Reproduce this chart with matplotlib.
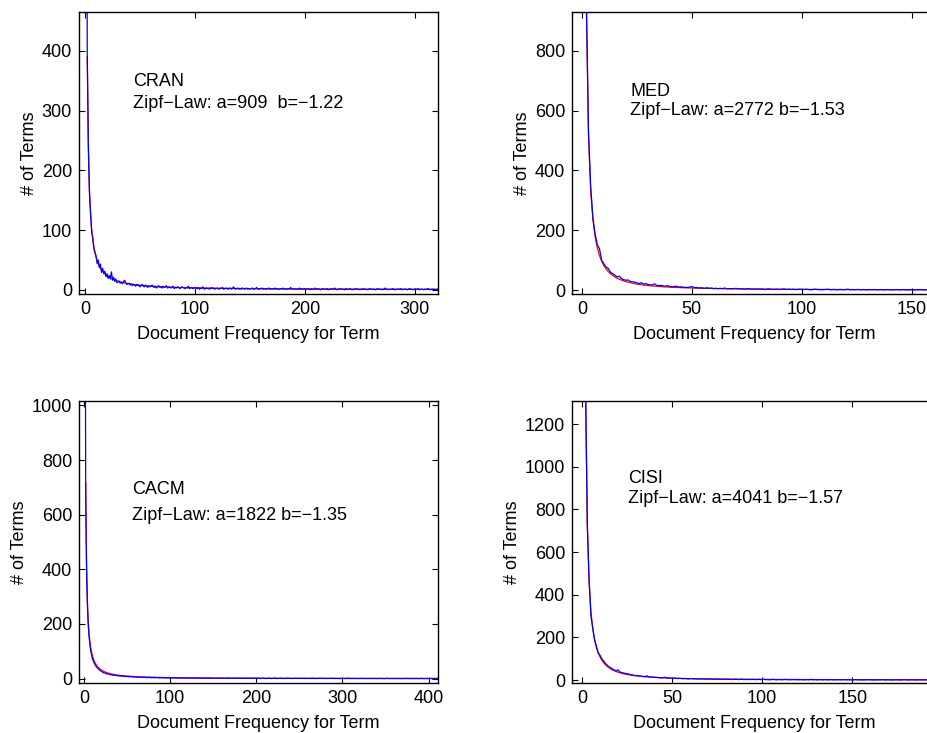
import numpy as np
import matplotlib
matplotlib.use("Agg")
import matplotlib.pyplot as plt

plt.rcParams['font.family'] = ['Liberation Sans', 'DejaVu Sans']
plt.rcParams['font.size'] = 13

# ---- observed number of terms per document frequency (df = 1, 2, 3, ...) ----
cran_head = [1250, 395, 243, 162, 131, 97, 88, 69, 63, 57, 44, 50, 37, 43, 29, 36, 27, 31, 22, 27,
             19, 24, 18, 30, 16, 21, 14, 18, 12, 13, 15, 11, 13, 10, 14, 16, 12, 9, 10, 11]
cran_mid = [8, 10, 7, 9, 8, 6, 9, 7, 8, 5, 7, 9, 6, 5, 8, 6, 4, 7, 5, 6,
            8, 5, 4, 6, 3, 5, 7, 4, 5, 3, 6, 4, 5, 7, 3, 4, 5, 3, 4, 6,
            2, 4, 3, 5, 4, 2, 3, 5, 4, 3, 2, 4, 3, 6, 2, 3, 4, 2, 3, 4]
cran_tail = [3, 2, 4, 1, 3, 2, 5, 2, 1, 3, 2, 3, 1, 2, 4, 2, 3, 1, 2, 3,
             2, 1, 3, 2, 4, 1, 2, 2, 3, 1, 2, 3, 1, 2, 5, 2, 1, 2, 3, 1,
             2, 1, 3, 2, 1, 2, 3, 1, 2, 1, 2, 3, 1, 1, 2, 4, 1, 2, 1, 2,
             3, 1, 2, 1, 1, 2, 3, 1, 2, 1, 2, 1, 3, 1, 2, 1, 1, 2, 1, 3,
             1, 2, 1, 1, 2, 1, 4, 1, 2, 1, 1, 2, 1, 1, 3, 1, 2, 1, 1, 2,
             1, 1, 2, 1, 0, 2, 1, 1, 3, 1, 1, 2, 1, 0, 1, 2, 1, 1, 1, 2,
             0, 1, 1, 2, 1, 1, 3, 1, 0, 1, 1, 2, 1, 1, 1, 0, 2, 1, 1, 1,
             2, 1, 0, 1, 1, 1, 2, 1, 1, 0, 1, 1, 2, 1, 1, 1, 0, 1, 2, 1,
             1, 1, 1, 0, 1, 2, 1, 1, 1, 0, 1, 1, 3, 1, 1, 0, 1, 1, 1, 2,
             1, 0, 1, 1, 1, 1, 2, 0, 1, 1, 1, 1, 0, 1, 2, 1, 1, 0, 1, 1,
             1, 1, 2, 0, 1, 1, 1, 0, 1, 1, 1, 2, 1, 0, 1, 1, 1, 1, 0, 1,
             1, 2, 1, 1, 0]

med_head = [3900, 985, 530, 345, 242, 188, 152, 138, 100, 88, 77, 72, 60, 55, 50, 44, 47, 38, 35, 33,
            34, 29, 28, 27, 24, 22, 25, 20, 22, 19, 18, 17, 21, 16, 15, 16, 14, 13, 15, 12,
            11, 12, 13, 10, 11, 10, 9, 9, 10, 12]
med_mid = [8, 9, 7, 8, 7, 6, 8, 6, 7, 5, 6, 5, 6, 5, 7, 4, 5, 4, 5, 6,
           4, 5, 4, 3, 4, 5, 3, 4, 3, 4, 3, 4, 2, 3, 4, 3, 2, 3, 3, 2,
           3, 4, 2, 3, 2, 3, 2, 2, 3, 2]
med_tail = [2, 3, 2, 1, 2, 3, 2, 2, 1, 2, 2, 3, 1, 2, 2, 1, 2, 2, 1, 2,
            3, 1, 2, 1, 2, 2, 1, 2, 1, 1, 2, 1, 2, 1, 1, 2, 1, 1, 2, 1,
            1, 1, 2, 1, 1, 2, 1, 1, 1, 2, 1, 1, 1, 2, 1, 1, 1, 2, 1, 1]

cacm_head = [2100, 660, 392, 262, 192, 150, 120, 99, 83, 71, 62, 56, 50, 45, 41, 38, 34, 31, 29, 27,
             25, 23, 21, 20, 21, 18, 17, 16, 17, 15, 14, 15, 12, 13, 12, 13, 11, 12, 10, 11]
cacm_mid = [10, 9, 11, 8, 10, 9, 8, 9, 7, 8, 9, 7, 6, 8, 7, 6, 7, 5, 7, 6,
            5, 6, 7, 5, 4, 6, 5, 4, 5, 6, 4, 5, 3, 5, 4, 4, 5, 3, 4, 4,
            3, 5, 3, 4, 3, 4, 3, 2, 4, 3, 3, 4, 2, 3, 3, 2, 4, 3, 2, 3,
            3, 2, 3, 2, 4, 2, 3, 1, 2, 3, 2, 2, 3, 1, 2, 4, 2, 2, 3, 1,
            2, 3, 2, 1, 2, 2, 3, 1, 2, 2, 1, 3, 2, 1, 2, 2, 1, 3, 1, 2,
            2, 1, 2, 1, 3, 1, 2, 1, 2, 2, 1, 1, 2, 1, 3, 1, 2, 1, 1, 2,
            1, 2, 1, 1, 2, 1, 3, 1, 1, 2, 1, 1, 2, 1, 1, 2, 1, 2, 1, 1,
            2, 1, 1, 2, 1, 1, 1, 2, 1, 1, 2, 1, 1, 1, 2, 1, 1, 2, 1, 1]
cacm_tail = [1, 1, 2, 1, 0, 1, 1, 2, 1, 1, 0, 1, 1, 1, 2, 1, 0, 1, 1, 1,
             1, 2, 1, 0, 1, 1, 1, 1, 2, 0, 1, 1, 1, 0, 1, 2, 1, 1, 0, 1,
             1, 1, 0, 1, 1, 2, 1, 0, 1, 1, 1, 0, 1, 1, 1, 2, 0, 1, 1, 0,
             1, 1, 1, 0, 2, 1, 0, 1, 1, 0, 1, 1, 1, 0, 1, 1, 2, 0, 1, 0,
             1, 1, 0, 1, 1, 0, 1, 2, 0, 1, 1, 0, 1, 1, 0, 1, 0, 1, 1, 0,
             1, 1, 0, 1, 0, 1, 2, 0, 1, 0, 1, 1, 0, 1, 0, 1, 1, 0, 0, 1,
             1, 0, 1, 0, 1, 1, 0, 1, 0, 0, 1, 1, 0, 1, 0, 1, 0, 1, 1, 0,
             0, 1, 0, 1, 1, 0, 1, 0, 0, 1, 0, 1, 1, 0, 0, 1, 0, 1, 0, 0,
             1, 1, 0, 0, 1, 0, 1, 0, 0, 1, 0, 1, 0, 0, 1, 1, 0, 0, 1, 0,
             1, 0, 0, 1, 0, 1, 0, 0, 1, 0, 0, 1, 1, 0, 0, 1, 0, 0, 1, 0,
             0, 1, 0, 1, 0, 0, 1, 0, 0, 1, 0, 1]

cisi_head = [6000, 1400, 735, 468, 300, 243, 190, 158, 128, 117, 100, 90, 78, 70, 62, 57, 52, 47, 42, 48,
             38, 35, 33, 31, 30, 28, 25, 24, 22, 21, 21, 19, 18, 17, 16, 20, 15, 14, 13, 14,
             12, 12, 11, 10, 11, 13, 9, 10, 9, 8]
cisi_mid = [9, 8, 7, 8, 7, 6, 7, 6, 5, 6, 7, 5, 6, 5, 4, 5, 6, 4, 5, 4,
            6, 4, 3, 4, 5, 3, 4, 3, 4, 3, 4, 3, 3, 2, 4, 3, 2, 3, 4, 2,
            3, 2, 3, 2, 3, 2, 2, 3, 2, 2]
cisi_tail = [3, 2, 2, 1, 2, 3, 2, 1, 2, 2, 1, 2, 3, 1, 2, 1, 2, 2, 1, 2,
             1, 2, 1, 1, 2, 1, 3, 1, 2, 1, 1, 2, 1, 1, 2, 1, 1, 2, 1, 1,
             1, 2, 1, 1, 1, 2, 1, 1, 1, 0, 1, 2, 1, 1, 1, 0, 1, 1, 2, 1,
             1, 0, 1, 1, 1, 1, 2, 0, 1, 1, 1, 0, 1, 1, 1, 1, 0, 1, 2, 1,
             0, 1, 1, 1, 0, 1, 1, 1, 0, 1, 1, 1, 0, 1, 1, 1, 2, 1, 1, 0]

# ---- collection names and fitted Zipf-law parameters (y = a * x^b) ----
names = ["CRAN", "MED", "CACM", "CISI"]
zipf_a = [909, 2772, 1822, 4041]
zipf_b = [-1.22, -1.53, -1.35, -1.57]
fit_labels = ["Zipf\u2212Law: a=909  b=\u22121.22",
              "Zipf\u2212Law: a=2772 b=\u22121.53",
              "Zipf\u2212Law: a=1822 b=\u22121.35",
              "Zipf\u2212Law: a=4041 b=\u22121.57"]
observed = [cran_head + cran_mid + cran_tail,
            med_head + med_mid + med_tail,
            cacm_head + cacm_mid + cacm_tail,
            cisi_head + cisi_mid + cisi_tail]

x_limits = [(-5.5, 321), (-4.5, 161), (-5.8, 411), (-5.5, 196.5)]
y_limits = [(-7, 465), (-13, 930), (-16, 1016), (-14, 1308)]
x_ticks = [[0, 100, 200, 300], [0, 50, 100, 150], [0, 100, 200, 300, 400], [0, 50, 100, 150]]
y_ticks = [[0, 100, 200, 300, 400], [0, 200, 400, 600, 800],
           [0, 200, 400, 600, 800, 1000], [0, 200, 400, 600, 800, 1000, 1200]]

W, H = 928, 733
fig = plt.figure(figsize=(W / 100, H / 100), dpi=100)

# panel rectangles in pixels: left, top, right, bottom
rects = [(79, 12, 438, 294), (572, 12, 936, 294),
         (79, 401, 438, 683), (572, 401, 936, 683)]
# text anchors (pixels, left x and baseline y) for name and fit label
name_pos = [(133, 86), (630, 96), (132, 494), (628, 483)]
fit_pos = [(133, 108), (630, 115), (132, 520), (628, 503)]

for i in range(4):
    l, t, r, b = rects[i]
    ax = fig.add_axes([l / W, 1 - b / H, (r - l) / W, (b - t) / H])
    y = np.array(observed[i], dtype=float)
    x = np.arange(1, len(y) + 1)
    xf = x[1:]
    yf = zipf_a[i] * xf ** zipf_b[i]
    ax.plot(xf, yf, color=(1, 0, 0), lw=0.9)
    ax.plot(x, y, color=(0, 0, 1), lw=0.9)
    ax.set_xlim(*x_limits[i])
    ax.set_ylim(*y_limits[i])
    ax.set_xticks(x_ticks[i])
    ax.set_yticks(y_ticks[i])
    ax.tick_params(direction='in', top=True, right=True, length=4, width=0.8,
                   labelsize=13, pad=5)
    for s in ax.spines.values():
        s.set_linewidth(1.0)
    ax.set_xlabel("Document Frequency for Term", fontsize=13, labelpad=6)
    ax.set_ylabel("# of Terms", fontsize=13, labelpad=3)
    nx, ny = name_pos[i]
    fx, fy = fit_pos[i]
    fig.text(nx / W, 1 - ny / H, names[i], fontsize=13, va='baseline', ha='left')
    fig.text(fx / W, 1 - fy / H, fit_labels[i], fontsize=13, va='baseline', ha='left')

fig.savefig("out.png", dpi=100)
